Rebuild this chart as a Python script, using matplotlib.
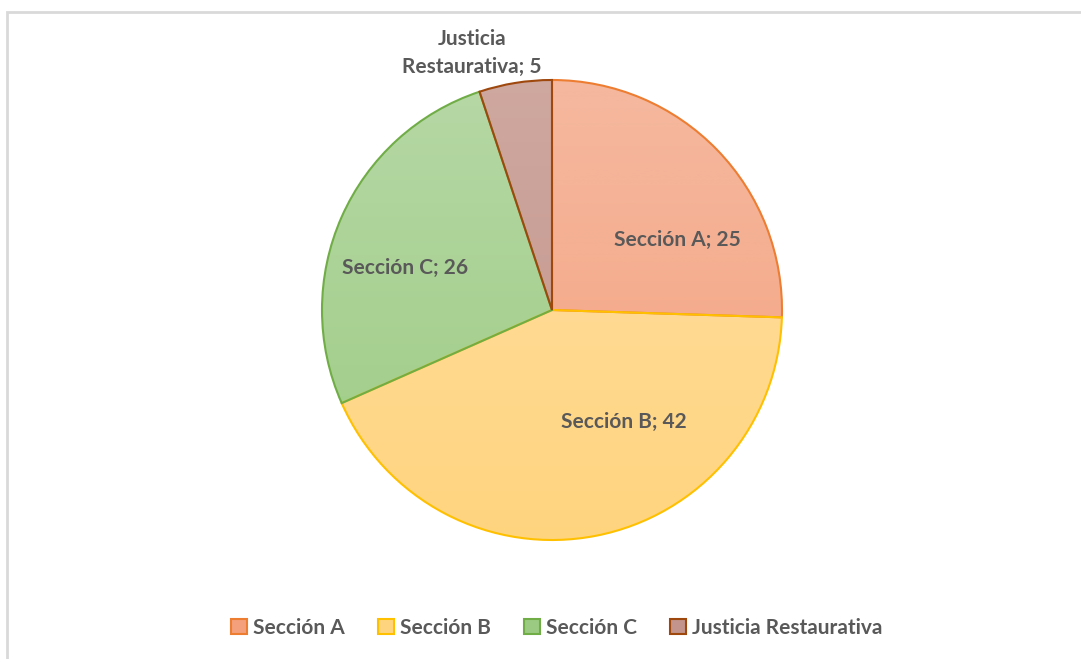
import matplotlib.pyplot as plt
import numpy as np
from matplotlib.patches import Patch, Rectangle

categories = ['Sección A', 'Sección B', 'Sección C', 'Justicia Restaurativa']
values = [25, 42, 26, 5]
label_texts = ['Sección A; 25', 'Sección B; 42', 'Sección C; 26', 'Justicia\nRestaurativa; 5']

fill_top = ['#F5B9A0', '#FFE0A6', '#B7D8A6', '#CFA89F']
fill_bot = ['#F5A07C', '#FFD47E', '#9BCB82', '#C2948B']
edge_colors = ['#ED7D31', '#FFC000', '#70AD47', '#9E480E']
text_color = '#595959'

plt.rcParams['font.family'] = ['Lato', 'DejaVu Sans']

fig = plt.figure(figsize=(10.81, 6.59), dpi=100)
fig.patches.append(Rectangle((7 / 1081, -0.1), 1.2, (659 - 12) / 659 + 0.1,
                             transform=fig.transFigure, fill=False,
                             edgecolor='#D9D9D9', linewidth=2))

ax = fig.add_axes([322 / 1081, 119 / 659, 460 / 1081, 460 / 659])
wedges, _ = ax.pie(values, startangle=90, counterclock=False,
                   colors=fill_bot,
                   wedgeprops=dict(linewidth=1.5))
for w, c in zip(wedges, edge_colors):
    w.set_edgecolor(c)

# vertical gradient fill clipped to each wedge
for w, c1, c2 in zip(wedges, fill_top, fill_bot):
    a = np.array(plt.matplotlib.colors.to_rgb(c1))
    b = np.array(plt.matplotlib.colors.to_rgb(c2))
    t = np.linspace(0, 1, 256)[:, None]
    grad = (a * (1 - t) + b * t)[:, None, :]
    im = ax.imshow(grad, extent=[-1.05, 1.05, -1.05, 1.05], aspect='auto',
                   origin='upper', zorder=w.get_zorder() + 0.1)
    im.set_clip_path(w)
for w in wedges:
    w.set_facecolor('none')
    w.set_zorder(5)

ax.set_xlim(-1, 1)
ax.set_ylim(-1, 1)
ax.set_aspect('auto')
ax.axis('off')

label_pos = [(0.543, 0.304), (0.313, -0.487), (-0.639, 0.183), (-0.348, 1.118)]
for txt, (x, y) in zip(label_texts, label_pos):
    ax.text(x, y, txt, ha='center', va='center', fontsize=15, fontweight='bold',
            color=text_color, linespacing=1.5, zorder=10, clip_on=False)

handles = [Patch(facecolor=f, edgecolor=e, linewidth=1.5) for f, e in zip(fill_bot, edge_colors)]
leg = fig.legend(handles, categories, loc='center', bbox_to_anchor=(0.515, 31 / 659),
                 ncol=4, frameon=False, handlelength=0.75, handleheight=0.75,
                 handletextpad=0.3, columnspacing=1.6,
                 prop=dict(size=15, weight='bold'))
for t in leg.get_texts():
    t.set_color(text_color)

plt.savefig('out.png', dpi=100)
